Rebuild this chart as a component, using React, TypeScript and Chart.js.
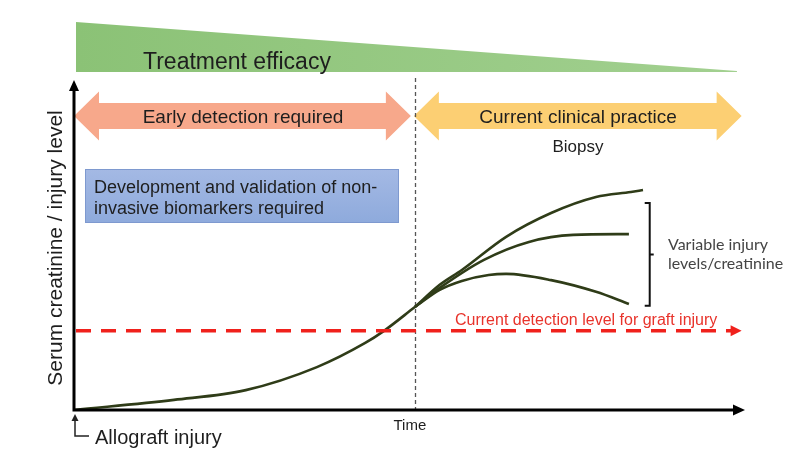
import { useEffect, useRef } from 'react';
import { Chart, registerables } from 'chart.js';

Chart.register(...registerables);

// ---- data (time 0..100, level 0..100, arbitrary units) ----
const mainTime = [0, 14.9, 25.6, 36.2, 43.4, 46.2, 50.8];
const mainLevel = [0, 2.6, 5.1, 11.0, 17.2, 20.3, 26.4];
const highTime = [50.8, 54.5, 57.8, 64.4, 71.1, 77.8, 83.0, 84.8];
const highLevel = [26.4, 32.1, 35.9, 44.4, 50.5, 54.6, 55.9, 56.4];
const midTime = [50.8, 54.5, 61.1, 67.8, 74.4, 82.7];
const midLevel = [26.4, 31.3, 38.5, 43.1, 44.9, 45.1];
const lowTime = [50.8, 54.5, 57.8, 61.8, 64.4, 71.1, 77.8, 82.7];
const lowLevel = [26.4, 30.8, 33.1, 34.6, 34.9, 33.3, 30.3, 27.2];

const detectionLevel = 20.3;
const clinicalStart = 50.8;
const efficacyEnd = 98.8;
const detectionEnd = 99.5;
const yAxisTop = 84.6;
const bracketTime = 85.8;
const bracketLevels = [26.7, 53.1];
const timeRange = [0, 100];
const levelRange = [0, 100];

const axisLabelY = 'Serum creatinine / injury level';
const axisLabelX = 'Time';
const originLabel = 'Allograft injury';
const efficacyLabel = 'Treatment efficacy';
const earlyLabel = 'Early detection required';
const clinicalLabel = 'Current clinical practice';
const biopsyLabel = 'Biopsy';
const biomarkerLines = ['Development and validation of non-', 'invasive biomarkers required'];
const variableLines = ['Variable injury', 'levels/creatinine'];
const detectionLabel = 'Current detection level for graft injury';

const toPoints = (xs: number[], ys: number[]) => xs.map((x, i) => ({ x, y: ys[i] }));

const SANS = '"Liberation Sans", Arial, sans-serif';
const CURVE = '#2f3c18';

function doubleArrow(ctx: CanvasRenderingContext2D, x0: number, x1: number, cy: number, fill: string) {
  const bh = 13, hh = 24.5, hl = 25;
  ctx.beginPath();
  ctx.moveTo(x0, cy);
  ctx.lineTo(x0 + hl, cy - hh);
  ctx.lineTo(x0 + hl, cy - bh);
  ctx.lineTo(x1 - hl, cy - bh);
  ctx.lineTo(x1 - hl, cy - hh);
  ctx.lineTo(x1, cy);
  ctx.lineTo(x1 - hl, cy + hh);
  ctx.lineTo(x1 - hl, cy + bh);
  ctx.lineTo(x0 + hl, cy + bh);
  ctx.lineTo(x0 + hl, cy + hh);
  ctx.closePath();
  ctx.fillStyle = fill;
  ctx.fill();
}

const diagramPlugin = {
  id: 'diagram',
  beforeDatasetsDraw(chart: any) {
    const { ctx, scales } = chart;
    const X = (v: number) => scales.x.getPixelForValue(v);
    const Y = (v: number) => scales.y.getPixelForValue(v);
    ctx.save();

    // treatment efficacy wedge
    const x0 = X(0) + 2;
    const tip = X(efficacyEnd);
    const g = ctx.createLinearGradient(x0, 0, tip, 0);
    g.addColorStop(0, '#8bc276');
    g.addColorStop(1, '#a2d090');
    ctx.beginPath();
    ctx.moveTo(x0, 22);
    ctx.lineTo(tip, 71);
    ctx.lineTo(tip, 72);
    ctx.lineTo(x0, 72);
    ctx.closePath();
    ctx.fillStyle = g;
    ctx.fill();
    ctx.fillStyle = '#1e1e1e';
    ctx.font = `23px ${SANS}`;
    ctx.textAlign = 'left';
    ctx.textBaseline = 'alphabetic';
    ctx.fillText(efficacyLabel, 143, 69);

    // phase arrows
    const cx = X(clinicalStart);
    doubleArrow(ctx, X(0), cx - 4, 116, '#f7a88b');
    doubleArrow(ctx, cx - 1, X(detectionEnd), 116, '#fccf73');
    ctx.fillStyle = '#1e1e1e';
    ctx.font = `19px ${SANS}`;
    ctx.textAlign = 'center';
    ctx.fillText(earlyLabel, 243, 122.5);
    ctx.fillText(clinicalLabel, 578, 122.5);
    ctx.font = `17px ${SANS}`;
    ctx.fillText(biopsyLabel, 578, 152);

    // biomarker box
    const bg = ctx.createLinearGradient(0, 169, 0, 223);
    bg.addColorStop(0, '#a4b9e4');
    bg.addColorStop(1, '#8eaadc');
    ctx.fillStyle = bg;
    ctx.fillRect(85, 169, 314, 54);
    ctx.strokeStyle = '#7e99cf';
    ctx.lineWidth = 1;
    ctx.strokeRect(85.5, 169.5, 313, 53);
    ctx.fillStyle = '#1e1e1e';
    ctx.font = `18px ${SANS}`;
    ctx.textAlign = 'left';
    ctx.fillText(biomarkerLines[0], 94, 193);
    ctx.fillText(biomarkerLines[1], 94, 214);

    // clinical time dashed vertical
    ctx.strokeStyle = '#555';
    ctx.lineWidth = 1.3;
    ctx.setLineDash([4, 3]);
    ctx.beginPath();
    ctx.moveTo(Math.round(cx) + 0.5, 78);
    ctx.lineTo(Math.round(cx) + 0.5, Y(0));
    ctx.stroke();
    ctx.setLineDash([]);
    ctx.restore();
  },
  afterDatasetsDraw(chart: any) {
    const { ctx, scales } = chart;
    const X = (v: number) => scales.x.getPixelForValue(v);
    const Y = (v: number) => scales.y.getPixelForValue(v);
    ctx.save();

    // detection level
    const ly = Y(detectionLevel);
    const lend = X(detectionEnd);
    ctx.strokeStyle = '#f0211c';
    ctx.lineWidth = 3.5;
    ctx.setLineDash([15, 10]);
    ctx.beginPath();
    ctx.moveTo(X(0) + 2, ly);
    ctx.lineTo(lend - 8, ly);
    ctx.stroke();
    ctx.setLineDash([]);
    ctx.fillStyle = '#f0211c';
    ctx.beginPath();
    ctx.moveTo(lend, ly);
    ctx.lineTo(lend - 11, ly - 5.5);
    ctx.lineTo(lend - 11, ly + 5.5);
    ctx.closePath();
    ctx.fill();
    ctx.fillStyle = '#e8332b';
    ctx.font = `16px ${SANS}`;
    ctx.textAlign = 'left';
    ctx.fillText(detectionLabel, 455, 325);

    // bracket
    const bx = X(bracketTime);
    const b0 = Y(bracketLevels[0]);
    const b1 = Y(bracketLevels[1]);
    ctx.strokeStyle = '#111';
    ctx.lineWidth = 2;
    ctx.beginPath();
    ctx.moveTo(bx - 5, b1);
    ctx.lineTo(bx, b1);
    ctx.lineTo(bx, b0);
    ctx.lineTo(bx - 5, b0);
    ctx.moveTo(bx, (b0 + b1) / 2);
    ctx.lineTo(bx + 4, (b0 + b1) / 2);
    ctx.stroke();
    ctx.fillStyle = '#444';
    ctx.font = '16px Lato, "Open Sans", sans-serif';
    ctx.fillText(variableLines[0], 668, 250);
    ctx.fillText(variableLines[1], 668, 269);

    // axes
    const ox = X(0);
    const oy = Y(0);
    const ytop = Y(yAxisTop);
    const xend = X(timeRange[1]);
    ctx.strokeStyle = '#000';
    ctx.fillStyle = '#000';
    ctx.lineWidth = 3;
    ctx.beginPath();
    ctx.moveTo(ox, oy + 1.5);
    ctx.lineTo(ox, ytop + 8);
    ctx.moveTo(ox - 1.5, oy);
    ctx.lineTo(xend - 9, oy);
    ctx.stroke();
    ctx.beginPath();
    ctx.moveTo(ox, ytop);
    ctx.lineTo(ox - 5, ytop + 11);
    ctx.lineTo(ox + 5, ytop + 11);
    ctx.closePath();
    ctx.fill();
    ctx.beginPath();
    ctx.moveTo(xend, oy);
    ctx.lineTo(xend - 12, oy - 5.5);
    ctx.lineTo(xend - 12, oy + 5.5);
    ctx.closePath();
    ctx.fill();

    // axis titles
    ctx.fillStyle = '#1e1e1e';
    ctx.font = `15px ${SANS}`;
    ctx.textAlign = 'center';
    ctx.fillText(axisLabelX, X(clinicalStart) - 5, 430);
    ctx.save();
    ctx.translate(62, 248);
    ctx.rotate(-Math.PI / 2);
    ctx.font = `21px ${SANS}`;
    ctx.fillText(axisLabelY, 0, 0);
    ctx.restore();

    // allograft injury marker
    ctx.strokeStyle = '#222';
    ctx.fillStyle = '#222';
    ctx.lineWidth = 1.5;
    ctx.beginPath();
    ctx.moveTo(ox + 1, 419);
    ctx.lineTo(ox + 1, 436);
    ctx.lineTo(ox + 15, 436);
    ctx.stroke();
    ctx.beginPath();
    ctx.moveTo(ox + 1, 414);
    ctx.lineTo(ox - 2.5, 421);
    ctx.lineTo(ox + 4.5, 421);
    ctx.closePath();
    ctx.fill();
    ctx.fillStyle = '#1e1e1e';
    ctx.font = `20px ${SANS}`;
    ctx.textAlign = 'left';
    ctx.fillText(originLabel, 95, 444);

    ctx.restore();
  },
};

export default function App() {
  const ref = useRef<HTMLCanvasElement>(null);
  useEffect(() => {
    if (!ref.current) return;
    const lineStyle = {
      borderColor: CURVE,
      borderWidth: 2.6,
      pointRadius: 0,
      cubicInterpolationMode: 'monotone' as const,
      fill: false,
    };
    const chart = new Chart(ref.current, {
      type: 'line',
      data: {
        datasets: [
          { label: 'Injury', data: toPoints(mainTime, mainLevel), ...lineStyle },
          { label: 'High', data: toPoints(highTime, highLevel), ...lineStyle },
          { label: 'Middle', data: toPoints(midTime, midLevel), ...lineStyle },
          { label: 'Low', data: toPoints(lowTime, lowLevel), ...lineStyle },
        ],
      },
      options: {
        animation: false,
        responsive: false,
        devicePixelRatio: 1,
        layout: { padding: { left: 74, right: 62, top: 20, bottom: 66 } },
        plugins: { legend: { display: false }, tooltip: { enabled: false } },
        scales: {
          x: { type: 'linear', min: timeRange[0], max: timeRange[1], display: false },
          y: { type: 'linear', min: levelRange[0], max: levelRange[1], display: false },
        },
      },
      plugins: [diagramPlugin],
    });
    return () => chart.destroy();
  }, []);
  return (
    <div style={{ position: 'fixed', left: 0, top: 0, width: 807, height: 476, background: '#fff' }}>
      <canvas ref={ref} width={807} height={476} />
    </div>
  );
}
